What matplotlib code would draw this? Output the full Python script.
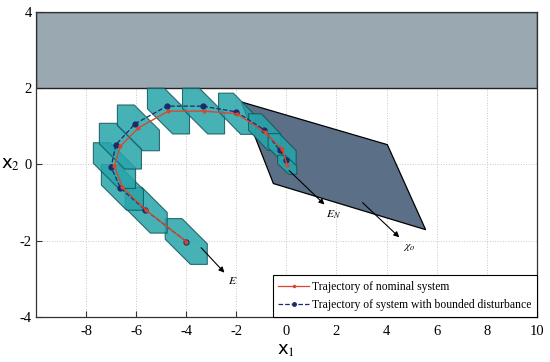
import matplotlib
matplotlib.use("Agg")
import matplotlib.pyplot as plt
from matplotlib.patches import Polygon, Rectangle
from matplotlib.lines import Line2D

plt.rcParams['mathtext.fontset'] = 'stix'

# ---- data ----
nominal_x = [-4.0, -5.6, -6.55, -6.87, -6.63, -5.91, -4.71, -3.31, -1.97, -0.87, -0.17, 0.03]
nominal_y = [-2.02, -1.2, -0.6, -0.03, 0.48, 0.96, 1.40, 1.40, 1.33, 0.85, 0.40, -0.01]
disturbed_x = [-4.0, -5.64, -6.63, -7.0, -6.81, -6.04, -4.77, -3.35, -2.0, -0.89, -0.27, 0.0]
disturbed_y = [-2.02, -1.19, -0.62, -0.07, 0.52, 1.07, 1.53, 1.53, 1.38, 0.91, 0.37, 0.12]
set_half_w = [0.84, 0.84, 0.84, 0.84, 0.84, 0.84, 0.84, 0.84, 0.74, 0.64, 0.56, 0.38]
set_half_h = [0.60, 0.60, 0.60, 0.60, 0.60, 0.60, 0.60, 0.60, 0.54, 0.48, 0.41, 0.25]
chi_x = [-1.8, 4.03, 5.56, -0.52]
chi_y = [1.64, 0.52, -1.71, -0.5]
obstacle_y = [2, 4]
x_ticks = [-8, -6, -4, -2, 0, 2, 4, 6, 8, 10]
y_ticks = [-4, -2, 0, 2, 4]
legend_labels = ["Trajectory of nominal system", "Trajectory of system with bounded disturbance"]

fig = plt.figure(figsize=(5.5, 3.62), dpi=100)
ax = fig.add_axes([0.0655, 0.1243, 0.9105, 0.8427])
ax.set_xlim(-10, 10)
ax.set_ylim(-4, 4)

# grid
ax.set_xticks(x_ticks)
ax.set_yticks(y_ticks)
ax.grid(True, linestyle=':', color='#c8c8c8', linewidth=0.7)
ax.set_axisbelow(True)

# obstacle band
ax.add_patch(Rectangle((-10, obstacle_y[0]), 20, obstacle_y[1] - obstacle_y[0],
                       facecolor='#9aa8b2', edgecolor='#222222', linewidth=1.0, zorder=2))

# chi_o polygon
ax.add_patch(Polygon(list(zip(chi_x, chi_y)), closed=True, facecolor='#5b6f87',
                     edgecolor='black', linewidth=0.9, zorder=3))

# tube sets (hexagonal shapes)
for cx, cy, a, b in zip(nominal_x, nominal_y, set_half_w, set_half_h):
    verts = [(cx - a, cy + b), (cx - 0.2 * a, cy + b), (cx + a, cy - 0.1 * b),
             (cx + a, cy - b), (cx + 0.2 * a, cy - b), (cx - a, cy + 0.1 * b)]
    ax.add_patch(Polygon(verts, closed=True, facecolor='#27a5aa', alpha=0.85,
                         edgecolor='#13575b', linewidth=0.8, zorder=4))

# trajectories
ax.plot(disturbed_x, disturbed_y, linestyle='--', color='#1b2a6b', linewidth=0.9,
        marker='o', markersize=3.5, zorder=6)
ax.plot(nominal_x, nominal_y, linestyle='-', color='#d9472f', linewidth=1.0,
        marker='o', markersize=2, zorder=7)

# arrows and labels
arrow_kw = dict(arrowstyle='-|>', color='black', lw=0.8, mutation_scale=8)
ax.annotate('', xy=(-2.4, -2.89), xytext=(-3.48, -2.13), arrowprops=arrow_kw, zorder=8)
ax.annotate('', xy=(1.6, -1.1), xytext=(0.03, -0.11), arrowprops=arrow_kw, zorder=8)
ax.annotate('', xy=(4.59, -1.96), xytext=(2.96, -0.95), arrowprops=arrow_kw, zorder=8)
ax.text(-2.15, -3.05, r'$E$', fontsize=8.5, ha='center', va='center')
ax.text(1.9, -1.3, r'$E_N$', fontsize=8.5, ha='center', va='center')
ax.text(4.9, -2.15, r'$\chi_o$', fontsize=8.5, ha='center', va='center')

# ticks
ax.tick_params(direction='in', length=4, width=0.8, labelsize=10.5, color='#333333')
ax.tick_params(axis='x', pad=6)
ax.tick_params(axis='y', pad=3)
ax.set_xticklabels([str(t) for t in x_ticks], family='Liberation Serif')
ax.set_yticklabels([str(t) for t in y_ticks], family='Liberation Serif')
for s in ax.spines.values():
    s.set_color('#333333')
    s.set_linewidth(0.9)

ax.set_xlabel(r'x$_1$', fontsize=13, labelpad=2)
ax.set_ylabel(r'x$_2$', fontsize=13, rotation=0, va='center', ha='center')
ax.yaxis.set_label_coords(-0.052, 0.5)

handles = [Line2D([], [], color='#d9472f', lw=0.9, marker='o', markersize=1.5),
           Line2D([], [], color='#1b2a6b', lw=0.9, ls='--', marker='o', markersize=2.5)]
leg = ax.legend(handles, legend_labels, loc='lower right',
                prop={'family': 'Liberation Serif', 'size': 8.4}, fancybox=False,
                edgecolor='black', framealpha=1, handlelength=2.6, borderaxespad=0.0,
                handletextpad=0.25, labelspacing=0.55, borderpad=0.5)
leg.get_frame().set_linewidth(0.8)
leg.set_zorder(10)

fig.savefig('out.png', dpi=100)
